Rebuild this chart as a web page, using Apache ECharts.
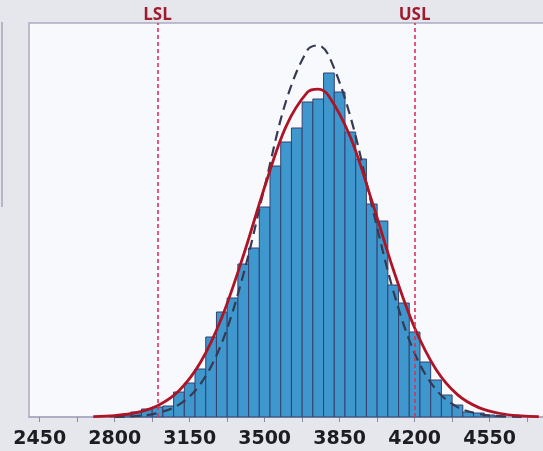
<!DOCTYPE html>
<html>
<head>
<meta charset="utf-8">
<title>Process capability histogram</title>
<script src="https://cdn.jsdelivr.net/npm/echarts@6/dist/echarts.min.js"></script>
<style>
  html, body { margin: 0; padding: 0; background: #e6e6ed; }
  #chart { width: 543px; height: 451px; }
</style>
</head>
<body>
<div id="chart"></div>
<script>
// Histogram bins (centre of each 50-wide bin) and their frequencies
const binCenters = [2800, 2850, 2900, 2950, 3000, 3050, 3100, 3150, 3200, 3250,
                    3300, 3350, 3400, 3450, 3500, 3550, 3600, 3650, 3700, 3750,
                    3800, 3850, 3900, 3950, 4000, 4050, 4100, 4150, 4200, 4250,
                    4300, 4350, 4400, 4450, 4500, 4550, 4600];
const binCounts  = [1, 2, 5, 8, 10, 11, 25, 34, 48, 80,
                    105, 119, 153, 169, 210, 251, 275, 289, 315, 318,
                    344, 325, 285, 258, 213, 196, 132, 114, 85, 55,
                    37, 22, 12, 5, 4, 2, 1];
const binWidth = 50;

// Fitted density curves, sampled along the measurement axis
const curveX       = [2700, 2800, 2900, 3000, 3100, 3200, 3300, 3400, 3500, 3600,
                      3700, 3750, 3800, 3900, 4000, 4100, 4200, 4300, 4400, 4500,
                      4600, 4700, 4780];
const fitOverall   = [0.4, 1.4, 4.3, 11.3, 26.3, 54.5, 99.6, 161, 230, 290.7,
                      324.8, 327.8, 320.8, 280, 216.4, 147.7, 89.2, 47.6, 22.4, 9.4,
                      3.5, 1.1, 0.4];
const fitWithin    = [null, 0.2, 1.0, 3.9, 12.3, 32.8, 74.2, 142, 230.2, 316,
                      367.1, 371.7, 361, 300.6, 211.9, 126.5, 63.8, 27.3, 9.9, 3.0,
                      0.8, 0.2, null];

// Specification limits
const specLimits = [{ name: 'LSL', value: 3000 }, { name: 'USL', value: 4200 }];

// Axis ticks and labels
const tickValues  = [2450, 2625, 2800, 2975, 3150, 3325, 3500, 3675, 3850, 4025,
                     4200, 4375, 4550, 4725, 4900];
const labelValues = [2450, 2800, 3150, 3500, 3850, 4200, 4550];

const histData = binCenters.map((c, i) => [c - binWidth / 2, c + binWidth / 2, binCounts[i]]);
const pairs = (xs, ys) => xs.map((x, i) => [x, ys[i]]);

const chart = echarts.init(document.getElementById('chart'), null, { renderer: 'canvas' });

chart.setOption({
  animation: false,
  backgroundColor: '#e6e6ed',
  grid: {
    left: 29, top: 23, width: 557, height: 394,
    containLabel: false,
    outerBoundsMode: 'none',
    show: true,
    backgroundColor: '#f8f9fd',
    borderColor: '#a9abc2',
    borderWidth: 1.5
  },
  xAxis: {
    type: 'value',
    min: 2400,
    max: 5000,
    splitLine: { show: false },
    axisLine: { show: true, onZero: false, lineStyle: { color: '#a9abc2', width: 1.5 } },
    axisTick: {
      show: true,
      length: 5,
      customValues: tickValues,
      lineStyle: { color: '#8a8ca0', width: 1 }
    },
    axisLabel: {
      customValues: labelValues,
      formatter: v => String(v),
      margin: 13,
      color: '#1c1c22',
      fontFamily: 'DejaVu Sans',
      fontWeight: 'bold',
      fontSize: 19
    }
  },
  yAxis: {
    type: 'value',
    min: 0,
    max: 394,
    show: false
  },
  graphic: [{
    type: 'line',
    shape: { x1: 2, y1: 22, x2: 2, y2: 207 },
    style: { stroke: '#a3a6bd', lineWidth: 1.5 }
  }],
  series: [
    {
      type: 'custom',
      name: 'Frequency',
      z: 2,
      data: histData,
      renderItem: function (params, api) {
        const p0 = api.coord([api.value(0), api.value(2)]);
        const p1 = api.coord([api.value(1), 0]);
        return {
          type: 'rect',
          shape: { x: p0[0], y: p0[1], width: p1[0] - p0[0], height: p1[1] - p0[1] },
          style: { fill: '#3e97cd', stroke: '#35406f', lineWidth: 1 }
        };
      },
      markLine: {
        silent: true,
        symbol: 'none',
        lineStyle: { color: '#d8335a', type: [4, 3], width: 1.6 },
        label: {
          show: true,
          position: 'end',
          distance: -1,
          formatter: '{b}',
          color: '#9e1c2e',
          fontFamily: 'Open Sans',
          fontWeight: 700,
          fontSize: 17
        },
        data: specLimits.map(s => ({ name: s.name, xAxis: s.value }))
      }
    },
    {
      type: 'line',
      name: 'Within',
      z: 3,
      smooth: 0.35,
      showSymbol: false,
      connectNulls: false,
      data: pairs(curveX, fitWithin),
      lineStyle: { color: '#363a52', width: 2.2, type: [10, 6] }
    },
    {
      type: 'line',
      name: 'Overall',
      z: 4,
      smooth: 0.35,
      showSymbol: false,
      data: pairs(curveX, fitOverall),
      lineStyle: { color: '#ad1526', width: 2.8 }
    }
  ]
});
</script>
</body>
</html>
